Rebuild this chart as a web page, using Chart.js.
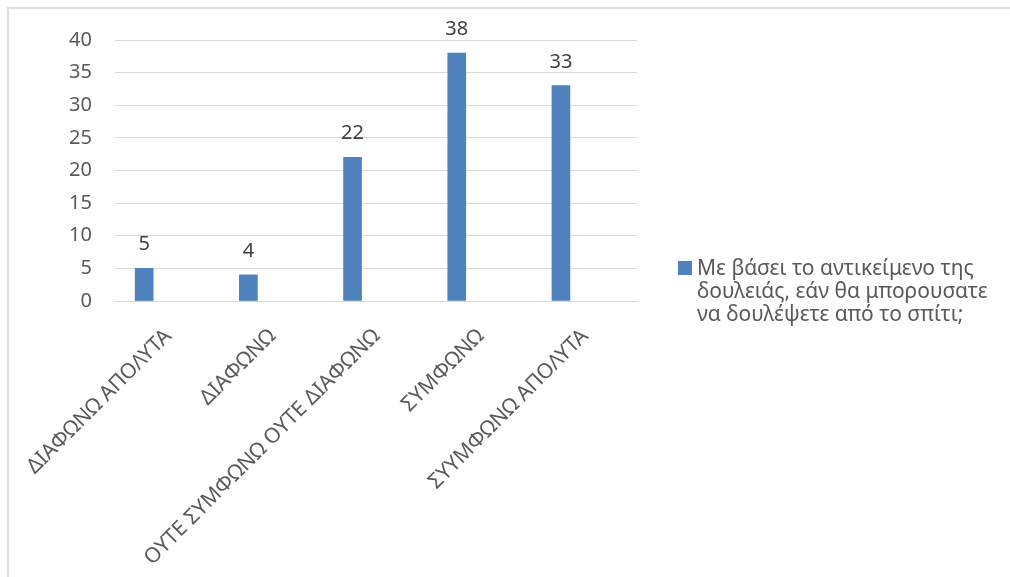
<!DOCTYPE html>
<html>
<head>
<meta charset="utf-8">
<script src="https://cdn.jsdelivr.net/npm/chart.js@4/dist/chart.umd.min.js"></script>
<style>
    html, body { margin: 0; padding: 0; background: #fff; overflow: hidden; }
    #wrap { position: relative; width: 1010px; height: 577px; }
    #frame {
        position: absolute; left: 7px; top: 7px; width: 1100px; height: 700px;
        border: 2px solid #dedede; box-sizing: border-box;
    }
    #chart { position: absolute; left: 0; top: 0; }
    #legend {
        position: absolute; left: 678px; top: 256px; width: 330px;
        font-family: "Noto Sans", sans-serif; font-size: 21px; line-height: 23px; color: #595959;
    }
    #legend .box {
        position: absolute; left: 0; top: 5px; width: 14px; height: 14px; background: #4f81bd;
    }
    #legend .txt { margin-left: 19px; white-space: nowrap; }
</style>
</head>
<body>
<div id="wrap">
    <div id="frame"></div>
    <canvas id="chart" width="1010" height="577"></canvas>
    <div id="legend"><span class="box"></span><div class="txt" id="legendText"></div></div>
</div>
<script>
const categories = ['ΔΙΑΦΩΝΩ ΑΠΟΛΥΤΑ', 'ΔΙΑΦΩΝΩ', 'ΟΥΤΕ ΣΥΜΦΩΝΩ ΟΥΤΕ ΔΙΑΦΩΝΩ', 'ΣΥΜΦΩΝΩ', 'ΣΥΥΜΦΩΝΩ ΑΠΟΛΥΤΑ'];
const seriesValues = [5, 4, 22, 38, 33];
const seriesName = 'Με βάσει το αντικείμενο της δουλειάς, εάν θα μπορουσατε να δουλέψετε από το σπίτι;';
const legendLines = ['Με βάσει το αντικείμενο της', 'δουλειάς, εάν θα μπορουσατε', 'να δουλέψετε από το σπίτι;'];
const yTicks = [0, 5, 10, 15, 20, 25, 30, 35, 40];

document.addEventListener('DOMContentLoaded', () => {

    document.getElementById('legendText').innerHTML = legendLines.join('<br>');

    const FONT = '"Noto Sans", sans-serif';

    // draws the value above each bar, like Excel data labels
    const valueLabels = {
        id: 'valueLabels',
        afterDatasetsDraw(chart) {
            const ctx = chart.ctx;
            const meta = chart.getDatasetMeta(0);
            ctx.save();
            ctx.font = '20px ' + FONT;
            ctx.fillStyle = '#404040';
            ctx.textAlign = 'center';
            ctx.textBaseline = 'alphabetic';
            meta.data.forEach((bar, i) => {
                ctx.fillText(String(seriesValues[i]), bar.x, bar.y - 18);
            });
            ctx.restore();
        }
    };

    // x as category index so the bars can sit where Excel put them in the plot area
    const points = seriesValues.map((v, i) => ({ x: i, y: v }));

    new Chart(document.getElementById('chart'), {
        type: 'bar',
        data: {
            datasets: [{
                label: seriesName,
                data: points,
                backgroundColor: '#4f81bd',
                borderWidth: 0,
                barThickness: 18
            }]
        },
        options: {
            responsive: false,
            animation: false,
            layout: { padding: { left: 0, top: 40, right: 373, bottom: 0 } },
            plugins: {
                legend: { display: false },
                tooltip: { enabled: false }
            },
            scales: {
                x: {
                    type: 'linear',
                    offset: false,
                    min: -0.28,
                    max: 4.73,
                    afterBuildTicks: function(scale) {
                        scale.ticks = categories.map((c, i) => ({ value: i }));
                    },
                    grid: { display: false },
                    border: { display: true, color: '#d9d9d9', width: 1 },
                    ticks: {
                        autoSkip: false,
                        minRotation: 45,
                        maxRotation: 45,
                        padding: 15,
                        labelOffset: 24,
                        color: '#595959',
                        font: { family: FONT, size: 21 },
                        callback: function(value) {
                            return categories[value];
                        }
                    },
                    afterFit: function(scale) {
                        scale.height = 276;
                        scale.paddingLeft = 0;
                        scale.paddingRight = 0;
                    }
                },
                y: {
                    min: 0,
                    max: 40,
                    afterBuildTicks: function(scale) {
                        scale.ticks = yTicks.map(v => ({ value: v }));
                    },
                    grid: { color: '#d9d9d9', lineWidth: 1, drawTicks: false },
                    border: { display: false },
                    ticks: {
                        padding: 23,
                        color: '#595959',
                        font: { family: FONT, size: 20 }
                    },
                    afterFit: function(scale) { scale.width = 115; }
                }
            }
        },
        plugins: [valueLabels]
    });
});
</script>
</body>
</html>
